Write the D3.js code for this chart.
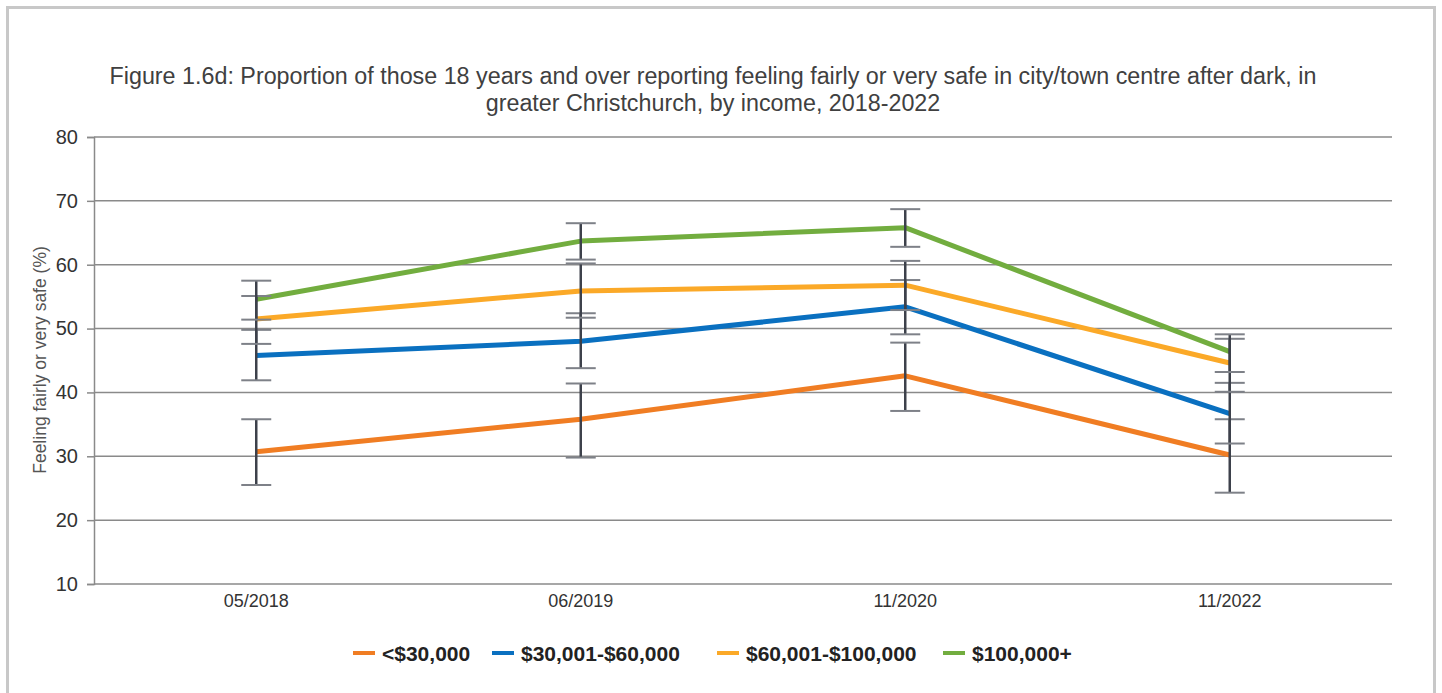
<!DOCTYPE html>
<html><head><meta charset="utf-8">
<script src="https://cdn.jsdelivr.net/npm/d3@7"></script>
<style>
html,body{margin:0;padding:0;background:#fff;}
svg{display:block;font-family:"Liberation Sans",Arial,sans-serif;}
</style></head>
<body>
<svg id="chart" width="1442" height="693"></svg>
<script>
const categories = ["05/2018", "06/2019", "11/2020", "11/2022"];
const seriesNames = ["<$30,000", "$30,001-$60,000", "$60,001-$100,000", "$100,000+"];
const seriesColors = ["#f07d23", "#0a70c0", "#fba928", "#72ad3f"];
const valuesLow = [30.7, 35.8, 42.6, 30.2];
const valuesMid = [45.8, 48.0, 53.4, 36.7];
const valuesUpper = [51.5, 55.9, 56.8, 44.6];
const valuesHigh = [54.6, 63.7, 65.8, 46.4];
const lowerLow = [25.5, 29.8, 37.1, 24.3];
const upperLow = [35.8, 41.4, 47.8, 35.8];
const lowerMid = [41.9, 43.8, 49.1, 32.0];
const upperMid = [49.8, 52.4, 57.6, 41.5];
const lowerUpper = [47.6, 51.7, 52.9, 40.1];
const upperUpper = [55.1, 60.2, 60.6, 48.4];
const lowerHigh = [51.4, 60.8, 62.8, 43.2];
const upperHigh = [57.5, 66.5, 68.7, 49.1];
const yTicks = [10, 20, 30, 40, 50, 60, 70, 80];
const titleLines = ["Figure 1.6d: Proportion of those 18 years and over reporting feeling fairly or very safe in city/town centre after dark, in",
                    "greater Christchurch, by income, 2018-2022"];
const yTitle = "Feeling fairly or very safe (%)";

const series = [
  {name: seriesNames[0], color: seriesColors[0], values: valuesLow, lo: lowerLow, hi: upperLow},
  {name: seriesNames[1], color: seriesColors[1], values: valuesMid, lo: lowerMid, hi: upperMid},
  {name: seriesNames[2], color: seriesColors[2], values: valuesUpper, lo: lowerUpper, hi: upperUpper},
  {name: seriesNames[3], color: seriesColors[3], values: valuesHigh, lo: lowerHigh, hi: upperHigh}
];

const svg = d3.select("#chart");
const m = {left: 94, right: 1392, top: 137, bottom: 584};

// outer frame
svg.append("rect").attr("x", 7.5).attr("y", 7.5).attr("width", 1427).attr("height", 700)
  .attr("fill", "#fff").attr("stroke", "#c8c8c8").attr("stroke-width", 3);

const x = d3.scaleBand().domain(categories).range([m.left, m.right]);
const y = d3.scaleLinear().domain([10, 80]).range([m.bottom, m.top]);

// title
svg.append("g").selectAll("text").data(titleLines).join("text")
  .attr("x", 713).attr("y", (d, i) => 84 + i * 27)
  .attr("text-anchor", "middle").attr("font-size", 23.3).attr("fill", "#404040")
  .text(d => d);

// grid
svg.append("g").selectAll("line").data(yTicks).join("line")
  .attr("x1", m.left).attr("x2", m.right)
  .attr("y1", d => y(d)).attr("y2", d => y(d))
  .attr("stroke", "#8a8a8a").attr("stroke-width", 1.5);

// y axis
const yAxis = svg.append("g").attr("transform", `translate(${m.left},0)`)
  .call(d3.axisLeft(y).tickValues(yTicks).tickSize(7).tickPadding(9));
yAxis.select(".domain").attr("stroke", "#8a8a8a").attr("stroke-width", 1.5);
yAxis.selectAll(".tick line").attr("stroke", "#8a8a8a").attr("stroke-width", 1.5);
yAxis.selectAll(".tick text").attr("font-size", 20).attr("fill", "#333")
  .attr("font-family", "Liberation Sans, Arial, sans-serif");

// x axis
const xAxis = svg.append("g").attr("transform", `translate(0,${m.bottom})`)
  .call(d3.axisBottom(x).tickSize(0).tickPadding(10));
xAxis.select(".domain").remove();
xAxis.selectAll(".tick text").attr("font-size", 18).attr("fill", "#333")
  .attr("font-family", "Liberation Sans, Arial, sans-serif");

// y title
svg.append("text").attr("transform", "translate(46,360) rotate(-90)")
  .attr("text-anchor", "middle").attr("font-size", 17.5).attr("fill", "#555")
  .text(yTitle);

const cx = c => x(c) + x.bandwidth() / 2;

// lines
const line = d3.line().x((d, i) => cx(categories[i])).y(d => y(d));
svg.append("g").selectAll("path").data(series).join("path")
  .attr("d", s => line(s.values)).attr("fill", "none")
  .attr("stroke", s => s.color).attr("stroke-width", 5).attr("stroke-linejoin", "round");

// error bars
const eb = svg.append("g");
series.forEach(s => {
  categories.forEach((c, i) => {
    const px = cx(c);
    eb.append("line").attr("x1", px).attr("x2", px)
      .attr("y1", y(s.lo[i])).attr("y2", y(s.hi[i]))
      .attr("stroke", "#3d414b").attr("stroke-width", 2.5);
    [s.lo[i], s.hi[i]].forEach(v => {
      eb.append("line").attr("x1", px - 15).attr("x2", px + 15)
        .attr("y1", y(v)).attr("y2", y(v))
        .attr("stroke", "#7e8188").attr("stroke-width", 2);
    });
  });
});

// legend
const legendX = [353, 492, 717, 943];
const lg = svg.append("g").selectAll("g").data(series).join("g")
  .attr("transform", (d, i) => `translate(${legendX[i]},653)`);
lg.append("line").attr("x1", 0).attr("x2", 22).attr("y1", 0).attr("y2", 0)
  .attr("stroke", d => d.color).attr("stroke-width", 4);
lg.append("text").attr("x", 29).attr("y", 7.5).attr("font-size", 21).attr("font-weight", "bold")
  .attr("fill", "#222").text(d => d.name);
</script>
</body></html>
